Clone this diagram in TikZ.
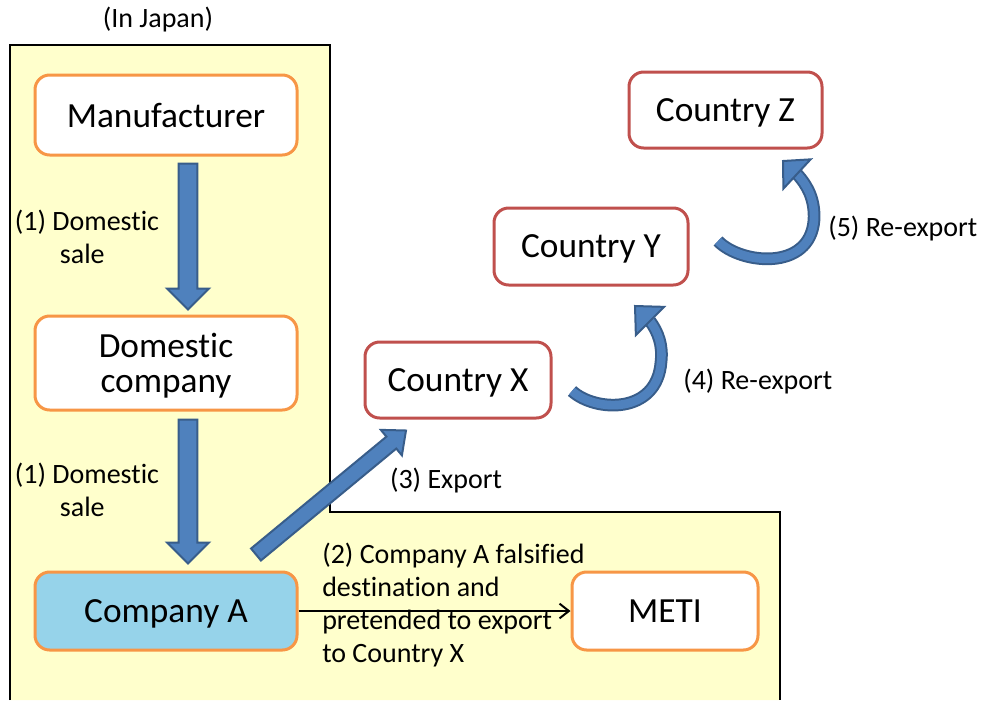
\documentclass[tikz,border=0pt]{standalone}
\usepackage{fontspec}
\setmainfont[Ligatures=NoCommon]{Carlito}
\usetikzlibrary{calc,arrows.meta}
\definecolor{ybg}{HTML}{FFFFCC}
\definecolor{orangeb}{HTML}{F79646}
\definecolor{redb}{HTML}{C0504D}
\definecolor{bluef}{HTML}{4F81BD}
\definecolor{blued}{HTML}{385D8A}
\definecolor{cyanf}{RGB}{150,211,234}
\newcommand\bigf{\fontsize{26.5pt}{26.25pt}\selectfont}
\newcommand\smallf{\fontsize{21pt}{24.75pt}\selectfont}
% start, end, half shaft, half head, head length
\newcommand\blockarr[5]{%
  \coordinate (ba-h) at ($(#2)!#5!(#1)$);
  \filldraw[fill=bluef, draw=blued, line width=1.5pt, line join=miter]
    ($(#1)!#3!90:(#2)$) -- ($(ba-h)!#3!90:(#2)$) -- ($(ba-h)!#4!90:(#2)$) -- (#2)
    -- ($(ba-h)!#4!-90:(#2)$) -- ($(ba-h)!#3!-90:(#2)$) -- ($(#1)!#3!-90:(#2)$) -- cycle;}
% path, head base, tip
\newcommand\curvarr[3]{%
  \draw[blued, line width=9.5pt] #1;
  \draw[bluef, line width=6.5pt] #1;
  \filldraw[fill=bluef, draw=blued, line width=1.5pt, line join=miter]
    ($(#2)!15pt!90:(#3)$) -- (#3) -- ($(#2)!15pt!-90:(#3)$) -- cycle;}
\tikzset{
  jbox/.style={draw=orangeb, line width=2.25pt, rounded corners=11pt, fill=white, font=\bigf, align=center, inner sep=0pt, text depth=0pt},
  cbox/.style={draw=redb, line width=2.25pt, rounded corners=11pt, fill=white, font=\bigf, align=center, inner sep=0pt, text depth=0pt},
  lbl/.style={font=\smallf, align=center, inner sep=0pt},
  lbll/.style={font=\smallf, align=left, inner sep=0pt, anchor=west},
}
\begin{document}
\begin{tikzpicture}[x=0.75pt, y=-0.75pt]
\useasboundingbox (0,0) rectangle (992,700);
% Japan region
\fill[ybg] (10,45) -- (330,45) -- (330,512) -- (780,512) -- (780,700) -- (10,700) -- cycle;
\draw[black, line width=1.5pt] (10,700) -- (10,45) -- (330,45) -- (330,512) -- (780,512) -- (780,700);
\node[lbl] (japan) at (158,20) {(In Japan)};
% nodes
\node[jbox, minimum width=196.5pt, minimum height=60pt] (man) at (166,115) {Manufacturer};
\node[jbox, minimum width=196.5pt, minimum height=70.5pt] (dom) at (166,363) {Domestic\\company};
\node[jbox, fill=cyanf, minimum width=196.5pt, minimum height=58.5pt] (coA) at (166,611) {Company A};
\node[jbox, minimum width=139.5pt, minimum height=58.5pt] (meti) at (665,611) {METI};
\node[cbox, minimum width=139.5pt, minimum height=57pt] (cx) at (458,380) {Country X};
\node[cbox, minimum width=145.5pt, minimum height=57.75pt] (cy) at (591,246.5) {Country Y};
\node[cbox, minimum width=144.75pt, minimum height=57pt] (cz) at (725.5,110) {Country Z};
% block arrows
\blockarr{$(man.south)+(22,7)$}{$(dom.north)+(22,-5)$}{7.1pt}{15.75pt}{15.75pt}
\blockarr{$(dom.south)+(22,8)$}{$(coA.north)+(22,-7)$}{7.1pt}{15.75pt}{15.75pt}
\blockarr{$(coA.north)+(90,-16)$}{$(cx.south)+(-52,11)$}{5.8pt}{12.4pt}{14.25pt}
% curved arrows
\coordinate (b4) at (650,321);
\coordinate (t4) at (635,306);
\curvarr{(572,391) .. controls (595,412) and (657,415) .. (661,362) .. controls (663,345) and (658,332) .. (b4)}{b4}{t4}
\coordinate (b5) at (797,174);
\coordinate (t5) at (783,161);
\curvarr{(718,241) .. controls (740,264) and (810,272) .. (814,220) .. controls (815,200) and (808,186) .. (b5)}{b5}{t5}
% thin arrow
\draw[black, line width=1.5pt, -{Straight Barb[length=7pt, width=11pt]}] (coA.east) -- (meti.west);
% labels
\node[lbl] (l1) at (87,236.5) {(1) Domestic\\sale\hspace*{7pt}};
\node[lbl] (l1b) at (87,489.5) {(1) Domestic\\sale\hspace*{7pt}};
\node[lbl] (l3) at (446,481) {(3) Export};
\node[lbll] (l2) at (322,605.5) {(2) Company A falsified\\destination and\\pretended to export\\to Country X};
\node[lbll] (l4) at (683,382) {(4) Re-export};
\node[lbll] (l5) at (828,229) {(5) Re-export};
\end{tikzpicture}
\end{document}
